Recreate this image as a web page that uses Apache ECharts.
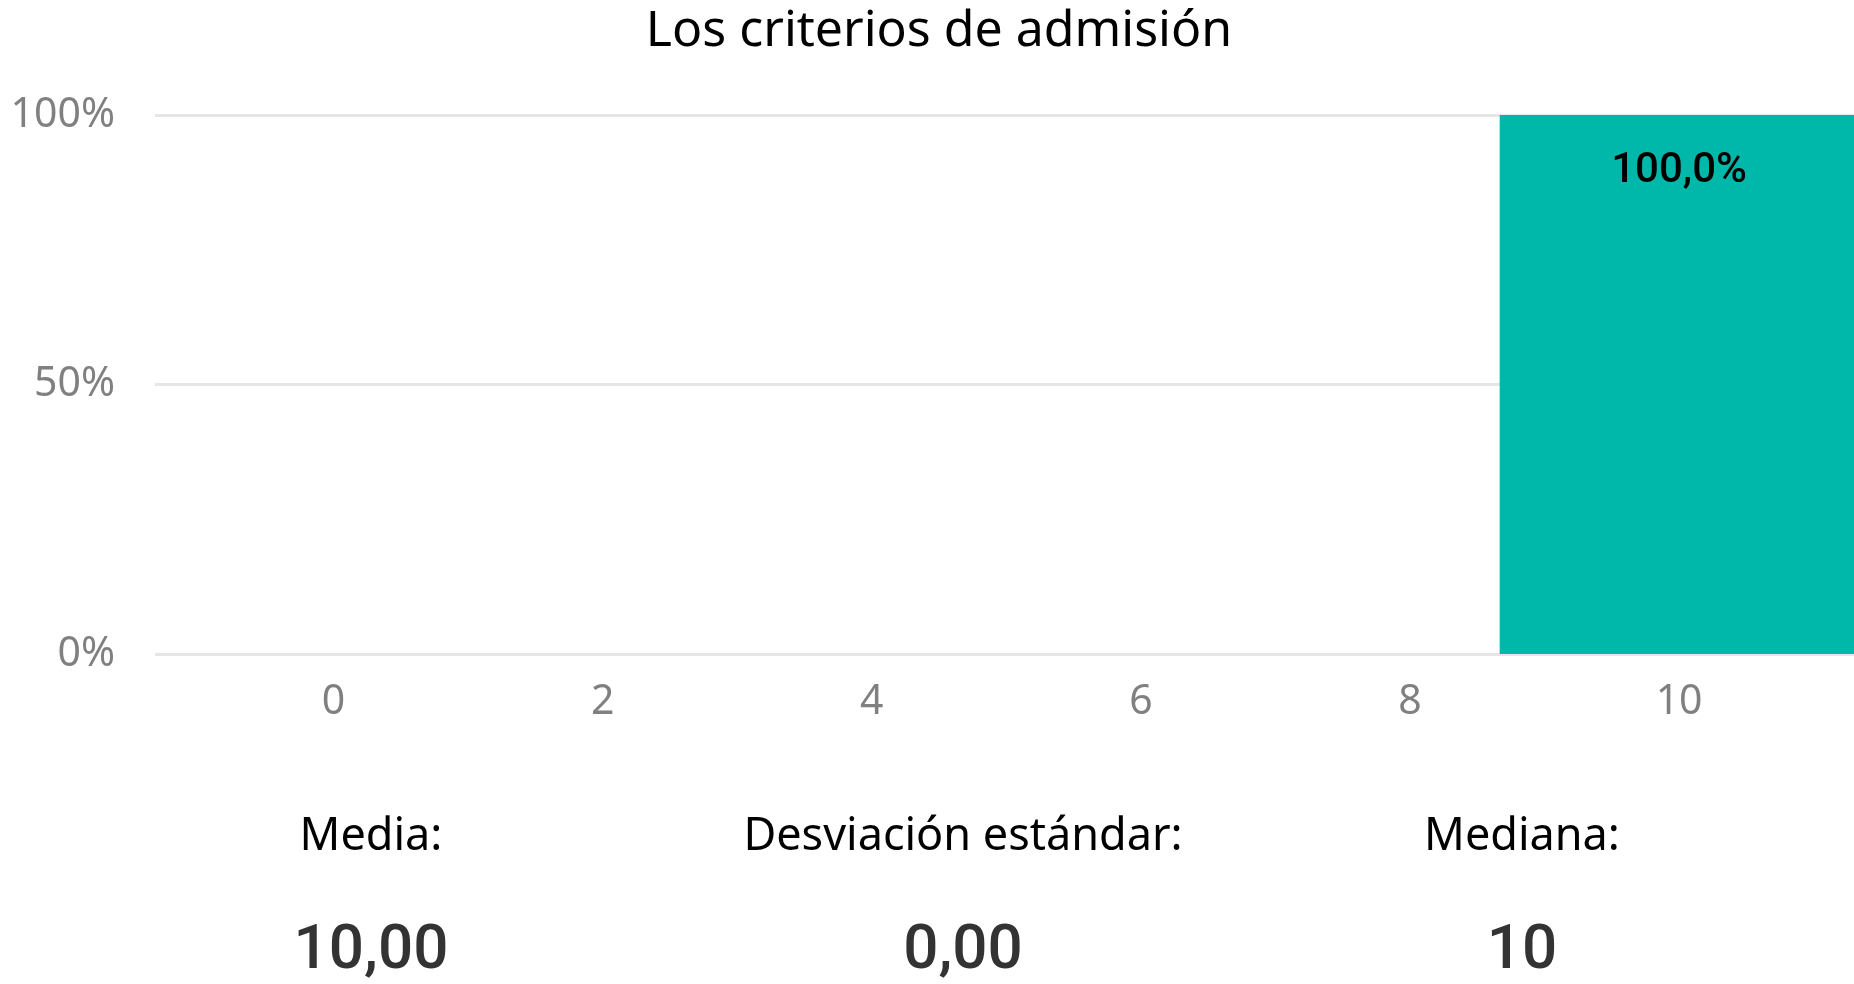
<!DOCTYPE html>
<html>
<head>
<meta charset="utf-8">
<script src="https://cdn.jsdelivr.net/npm/echarts@6/dist/echarts.min.js"></script>
<style>
html,body{margin:0;padding:0;background:#fff;}
#chart{width:1854px;height:984px;}
</style>
</head>
<body>
<div id="chart"></div>
<script>
// ---- data ----
const chartTitle = 'Los criterios de admisión';
const binCenters = [10];          // score bin centers
const binPercents = [100];        // share of answers (%)
const xTickValues = [0, 2, 4, 6, 8, 10];
const yTickValues = [0, 50, 100];
const statLabels = ['Media:', 'Desviación estándar:', 'Mediana:'];
const statValues = ['10,00', '0,00', '10'];

// ---- layout constants ----
const BIN_WIDTH = 8 / 3;
const X_MIN = -1.327, X_MAX = 11.3;
const statCenters = [366, 958, 1517];
const SEG = '"Noto Sans", "Open Sans", sans-serif';
const DIN = 'Roboto, "Noto Sans", sans-serif';

const chart = echarts.init(document.getElementById('chart'));

const titles = [{
  text: chartTitle, left: 934, top: 2, textAlign: 'center',
  textStyle: {fontFamily: SEG, fontSize: 50, fontWeight: 'normal', color: '#000'}
}];
statLabels.forEach((t, i) => {
  titles.push({
    text: t, left: statCenters[i], top: 810, textAlign: 'center',
    textStyle: {fontFamily: SEG, fontSize: 45, fontWeight: 'normal', color: '#000'}
  });
  titles.push({
    text: statValues[i], left: statCenters[i], top: 916, textAlign: 'center',
    textStyle: {fontFamily: DIN, fontSize: 62, fontWeight: 500, color: '#333'}
  });
});

chart.setOption({
  animation: false,
  title: titles,
  grid: {left: 155, right: 0, top: 115, bottom: 330, containLabel: false},
  xAxis: {
    type: 'value', min: X_MIN, max: X_MAX,
    axisLine: {show: false}, axisTick: {show: false}, splitLine: {show: false},
    axisLabel: {
      customValues: xTickValues, margin: 28,
      color: '#808080', fontFamily: SEG, fontSize: 41
    }
  },
  yAxis: {
    type: 'value', min: 0, max: 100, interval: 50,
    axisLine: {show: false}, axisTick: {show: false},
    splitLine: {lineStyle: {color: '#e6e6e6', width: 3}},
    axisLabel: {
      formatter: '{value}%', margin: 40,
      color: '#808080', fontFamily: SEG, fontSize: 41
    }
  },
  series: [{
    type: 'custom',
    data: binCenters.map((c, i) => [c, binPercents[i]]),
    renderItem: function (params, api) {
      const c = api.value(0), v = api.value(1);
      const p0 = api.coord([c - BIN_WIDTH / 2, v]);
      const p1 = api.coord([c + BIN_WIDTH / 2, 0]);
      const pc = api.coord([c, v]);
      return {
        type: 'group',
        children: [{
          type: 'rect',
          shape: {x: p0[0], y: p0[1], width: p1[0] - p0[0], height: p1[1] - p0[1]},
          style: {fill: '#00B8AA'}
        }, {
          type: 'text',
          style: {
            text: v.toFixed(1).replace('.', ',') + '%',
            x: pc[0], y: pc[1] + 56,
            align: 'center', verticalAlign: 'middle',
            fill: '#000', fontFamily: DIN, fontSize: 42, fontWeight: 500
          }
        }]
      };
    }
  }]
});
</script>
</body>
</html>
